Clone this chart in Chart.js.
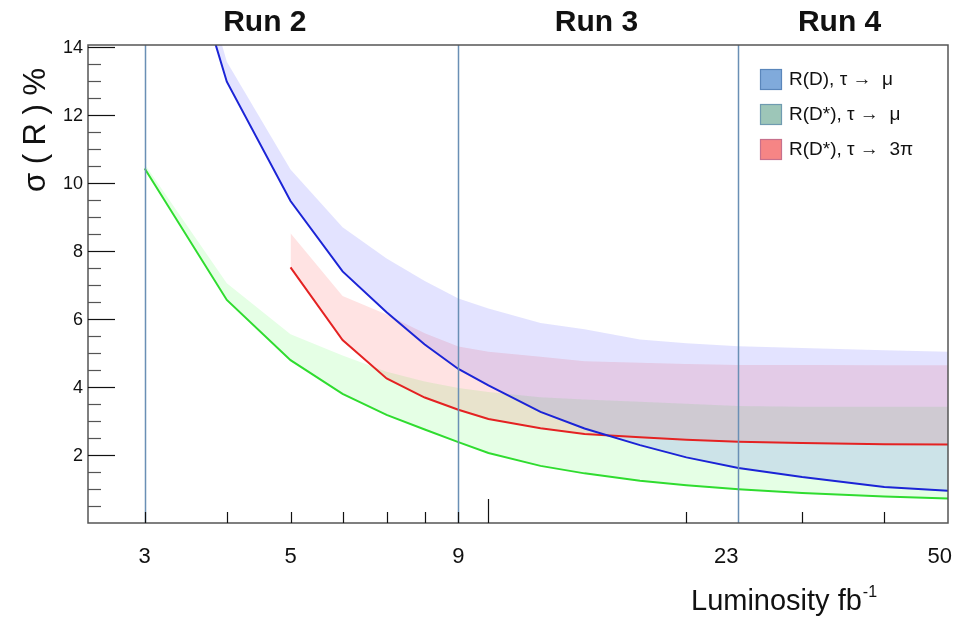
<!DOCTYPE html>
<html>
<head>
<meta charset="utf-8">
<script src="https://cdn.jsdelivr.net/npm/chart.js@4.4.1/dist/chart.umd.min.js"></script>
<style>
    body { margin: 0; background: #fff; }
    #wrap { width: 953px; height: 619px; }
</style>
</head>
<body>
<div id="wrap"><canvas id="sigmaChart" width="953" height="619"></canvas></div>
<script>
// luminosity points (fb^-1)
const lumi = [3, 4, 5, 6, 7, 8, 9, 10, 12, 14, 17, 20, 24, 30, 40, 50];
const lumi3pi = [5, 6, 7, 8, 9, 10, 12, 14, 17, 20, 24, 30, 40, 50];

// R(D), tau -> mu
const rdMu = [21.0, 12.98, 9.47, 7.4, 6.2, 5.25, 4.53, 4.05, 3.27, 2.78, 2.29, 1.93, 1.62, 1.35, 1.06, 0.95];
const rdMuUpper = [22.0, 13.57, 10.4, 8.7, 7.78, 7.12, 6.6, 6.31, 5.88, 5.7, 5.4, 5.29, 5.2, 5.15, 5.08, 5.04];
// R(D*), tau -> mu
const rdsMu = [10.43, 6.56, 4.79, 3.8, 3.18, 2.75, 2.38, 2.06, 1.68, 1.46, 1.24, 1.11, 0.99, 0.88, 0.78, 0.72];
const rdsMuUpper = [10.55, 7.05, 5.55, 4.93, 4.45, 4.16, 3.97, 3.85, 3.7, 3.63, 3.57, 3.51, 3.44, 3.42, 3.42, 3.42];
// R(D*), tau -> 3pi
const rds3pi = [7.52, 5.38, 4.25, 3.69, 3.33, 3.06, 2.79, 2.62, 2.52, 2.45, 2.39, 2.35, 2.32, 2.31];
const rds3piUpper = [8.52, 6.68, 6.13, 5.58, 5.19, 5.04, 4.89, 4.76, 4.71, 4.68, 4.65, 4.65, 4.64, 4.64];

// axis stuff
const xTickValues = [3, 5, 9, 23, 50];
const xTickLabels = ['3', '5', '9', '23', '50'];
const xMinorTicks = [3, 4, 5, 6, 7, 8, 9, 20, 30, 40];
const xMajorTicks = [10];
const yTickLabels = [2, 4, 6, 8, 10, 12, 14];
const runBoundaries = [3, 9, 24];
const runNames = ['Run 2', 'Run 3', 'Run 4'];
const runLabelAt = [4.57, 14.6, 34.2];

const legendItems = [
    { text: 'R(D), \u03C4 \u2192  \u03BC', fill: '#80aadb', stroke: '#5a86bb' },
    { text: 'R(D*), \u03C4 \u2192  \u03BC', fill: '#9dc6b8', stroke: '#6f9bb0' },
    { text: 'R(D*), \u03C4 \u2192  3\u03C0', fill: '#f68585', stroke: '#c7708c' }
];

const FONT = '"Liberation Sans", Arial, sans-serif';

function pts(xs, ys) {
    return xs.map((x, i) => ({ x: x, y: ys[i] }));
}

// draws the ROOT style frame, ticks and texts on top of the chart
const rootFrame = {
    id: 'rootFrame',
    afterDatasetsDraw(chart) {
        const ctx = chart.ctx;
        const a = chart.chartArea;
        const xs = chart.scales.x;
        const ys = chart.scales.y;
        ctx.save();

        // run boundaries
        ctx.strokeStyle = '#6a8fb5';
        ctx.lineWidth = 1.5;
        runBoundaries.forEach(v => {
            const px = Math.round(xs.getPixelForValue(v)) + 0.5;
            ctx.beginPath();
            ctx.moveTo(px, a.top);
            ctx.lineTo(px, a.bottom);
            ctx.stroke();
        });

        // frame
        ctx.strokeStyle = '#555';
        ctx.lineWidth = 1.5;
        ctx.strokeRect(a.left, a.top, a.right - a.left, a.bottom - a.top);

        // y ticks
        for (let v = 0.5; v <= 14; v += 0.5) {
            const py = Math.round(ys.getPixelForValue(v)) + 0.5;
            const major = v % 2 === 0;
            ctx.strokeStyle = major ? '#111' : '#555';
            ctx.lineWidth = 1.2;
            ctx.beginPath();
            ctx.moveTo(a.left, py);
            ctx.lineTo(a.left + (major ? 27 : 13), py);
            ctx.stroke();
        }

        // x ticks
        ctx.strokeStyle = '#111';
        ctx.lineWidth = 1.2;
        xMinorTicks.concat(xMajorTicks).forEach(v => {
            const px = Math.round(xs.getPixelForValue(v)) + 0.5;
            const len = xMajorTicks.includes(v) ? 24 : 11;
            ctx.beginPath();
            ctx.moveTo(px, a.bottom);
            ctx.lineTo(px, a.bottom - len);
            ctx.stroke();
        });

        // y labels
        ctx.fillStyle = '#111';
        ctx.font = '18px ' + FONT;
        ctx.textAlign = 'right';
        ctx.textBaseline = 'middle';
        yTickLabels.forEach(v => {
            ctx.fillText(String(v), a.left - 5, ys.getPixelForValue(v) + 1);
        });

        // x labels
        ctx.font = '22px ' + FONT;
        ctx.textAlign = 'center';
        xTickValues.forEach((v, i) => {
            const w = ctx.measureText(xTickLabels[i]).width;
            let px = xs.getPixelForValue(v);
            px = Math.min(px, chart.width - w / 2 - 1);
            ctx.fillText(xTickLabels[i], px, 557);
        });

        // run names
        ctx.font = 'bold 30px ' + FONT;
        runNames.forEach((t, i) => {
            ctx.fillText(t, xs.getPixelForValue(runLabelAt[i]), 23);
        });

        // x title
        ctx.textAlign = 'left';
        ctx.textBaseline = 'alphabetic';
        ctx.font = '29px ' + FONT;
        const t = 'Luminosity fb';
        ctx.fillText(t, 691, 610);
        const tw = ctx.measureText(t).width;
        ctx.font = '16px ' + FONT;
        ctx.fillText('-1', 691 + tw + 1, 597);

        // y title
        ctx.save();
        ctx.translate(45, 130);
        ctx.rotate(-Math.PI / 2);
        ctx.font = '31px ' + FONT;
        ctx.textAlign = 'center';
        ctx.fillText('\u03C3 ( R ) %', 0, 0);
        ctx.restore();

        // legend
        ctx.font = '19px ' + FONT;
        ctx.textAlign = 'left';
        ctx.textBaseline = 'middle';
        legendItems.forEach((it, i) => {
            const y0 = 69 + i * 35;
            ctx.fillStyle = it.fill;
            ctx.fillRect(760, y0, 22, 21);
            ctx.strokeStyle = it.stroke;
            ctx.lineWidth = 1.2;
            ctx.strokeRect(760.5, y0 + 0.5, 21, 20);
            ctx.fillStyle = '#111';
            ctx.fillText(it.text, 789, y0 + 11);
        });

        ctx.restore();
    }
};

const band = (data, color) => ({
    data: data,
    borderWidth: 0,
    pointRadius: 0,
    backgroundColor: color,
    fill: '+1'
});
const curve = (data, color) => ({
    data: data,
    borderColor: color,
    borderWidth: 2,
    pointRadius: 0,
    fill: false
});

new Chart(document.getElementById('sigmaChart'), {
    type: 'line',
    data: {
        datasets: [
            band(pts(lumi, rdMuUpper), 'rgba(40, 40, 255, 0.13)'),
            curve(pts(lumi, rdMu), '#1b24d6'),
            band(pts(lumi3pi, rds3piUpper), 'rgba(255, 40, 40, 0.13)'),
            curve(pts(lumi3pi, rds3pi), '#e42222'),
            band(pts(lumi, rdsMuUpper), 'rgba(40, 255, 40, 0.12)'),
            curve(pts(lumi, rdsMu), '#2fdc2f')
        ]
    },
    options: {
        responsive: false,
        animation: false,
        layout: { padding: { left: 88, top: 45, right: 5, bottom: 96 } },
        plugins: {
            legend: { display: false },
            tooltip: { enabled: false },
            filler: { drawTime: 'beforeDatasetsDraw' }
        },
        scales: {
            x: { type: 'logarithmic', min: 2.46, max: 50, display: false },
            y: { type: 'linear', min: 0, max: 14.06, display: false }
        }
    },
    plugins: [rootFrame]
});
</script>
</body>
</html>
